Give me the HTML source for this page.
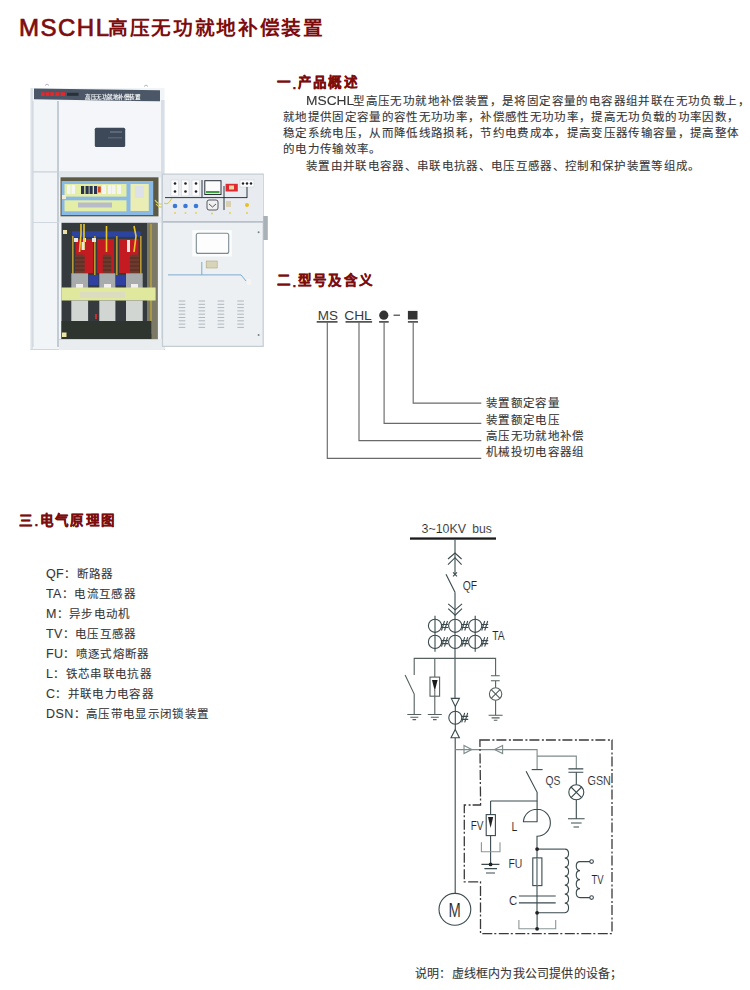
<!DOCTYPE html>
<html lang="zh-CN"><head><meta charset="utf-8">
<style>
html,body{margin:0;padding:0;background:#fff;}
body{width:750px;height:990px;position:relative;overflow:hidden;text-spacing-trim:space-all;font-family:"Liberation Sans",sans-serif;color:#333;}
.a{position:absolute;white-space:nowrap;}
.title{left:19px;top:12px;font-size:19.7px;line-height:30px;color:#7d0c0c;font-weight:bold;letter-spacing:1.65px;}
.title .lat{font-size:24px;letter-spacing:1.5px;font-weight:normal;-webkit-text-stroke:0.7px #7d0c0c;position:relative;top:1px;margin-right:-2.5px;}
.h{font-size:13.5px;line-height:20px;color:#7d0c0c;font-weight:bold;letter-spacing:2.4px;-webkit-text-stroke:0.3px #7d0c0c;}
.b{font-size:11.5px;line-height:20px;color:#363636;letter-spacing:1.33px;-webkit-text-stroke:0.1px #363636;}
.j{width:458px;text-align:justify;text-align-last:justify;white-space:normal;}
.lat{letter-spacing:1px;}
.ll{font-size:12.5px;letter-spacing:0.4px;}
svg{position:absolute;left:0;top:0;}
</style></head><body>
<svg width="750" height="990" viewBox="0 0 750 990" style="filter:blur(0.45px)">
<!-- left cabinet body -->
<rect x="30.5" y="88" width="134" height="262" fill="#f2f5f8"/>
<rect x="30.5" y="88" width="2.5" height="262" fill="#dde3e8"/>
<rect x="161" y="100" width="3.5" height="250" fill="#d8dee5"/>
<path d="M30.5,349.5H165" stroke="#d0d6dc" stroke-width="1.2"/>
<!-- header bar -->
<polygon points="34,88.4 160,90.2 160,101.5 34,99.3" fill="#4b5766"/>
<g fill="#e8262a"><rect x="41" y="92.2" width="3.6" height="3.8"/><rect x="45.6" y="92.2" width="3.6" height="3.8"/><rect x="50.2" y="92.2" width="4" height="3.8"/><rect x="55.4" y="92.2" width="4" height="3.8"/><rect x="60.6" y="92.2" width="4.4" height="3.8"/></g>
<rect x="67" y="92.8" width="11.5" height="3" fill="#283038"/>
<text x="85" y="98.8" font-size="5.6" font-weight="bold" fill="#f2f4f6" letter-spacing="-0.5">高压无功就地补偿装置</text>
<!-- left narrow panel divider -->
<rect x="57" y="101" width="2" height="246" fill="#c3ccd4"/>
<path d="M33,171.8H161" stroke="#c8d0d8" stroke-width="1.3"/>
<path d="M33,222.5H59" stroke="#d0d7de" stroke-width="1"/>
<!-- upper door -->
<rect x="59" y="101.5" width="102" height="70" fill="#f4f6f9"/>
<rect x="94.8" y="127.8" width="30.4" height="19.2" rx="1.5" fill="#3d4959"/>
<rect x="110" y="131" width="12" height="2" fill="#5a6878"/>
<rect x="108" y="137" width="14" height="1.5" fill="#55636f"/>
<!-- shelf -->
<rect x="59" y="172.5" width="102" height="5" fill="#e3e8ec"/>
<!-- relay panel -->
<rect x="60.5" y="177.3" width="98" height="39.3" fill="#5c5a44"/>
<rect x="61.6" y="181" width="91.6" height="34" fill="#8bb9e6"/>
<rect x="64.5" y="184" width="62" height="12.6" fill="#e4eea6"/>
<rect x="64.5" y="200.3" width="62" height="11" fill="#e4eea6"/>
<rect x="130.5" y="184" width="18.3" height="27" fill="#eaeeb4"/>
<g fill="#f4f4f4"><rect x="67" y="185" width="3.5" height="9"/><rect x="71.5" y="185" width="3.5" height="9"/><rect x="102" y="185" width="4" height="9"/><rect x="108" y="185" width="3.5" height="9"/><rect x="112" y="185" width="3.5" height="9"/><rect x="117" y="185" width="4" height="9"/><rect x="135" y="186" width="9" height="12" fill="#dde2ea"/></g>
<g fill="#2a3450"><rect x="81" y="186" width="3.2" height="8"/><rect x="85.5" y="186" width="3.2" height="8"/><rect x="89.5" y="186" width="3.2" height="8"/><rect x="94" y="186" width="3.2" height="8"/></g>
<rect x="98" y="186.5" width="2.8" height="6" fill="#d84020"/>
<rect x="78" y="202.5" width="34" height="5" fill="#b8bcc8"/>
<rect x="62" y="195" width="4" height="4" fill="#f0ecd8"/>
<path d="M155,200q4,6 9,3M156,204q4,5 8,2" stroke="#d8d060" stroke-width="1.2" fill="none"/>
<!-- lower shelf -->
<rect x="59" y="216.6" width="102" height="6.2" fill="#e6eaee"/>
<!-- interior -->
<rect x="61.5" y="222.8" width="96" height="116.2" fill="#343a3e"/>
<rect x="147" y="223" width="10.5" height="116" fill="#7c7a66"/>
<rect x="150" y="224" width="2" height="110" fill="#a89848"/>
<rect x="63" y="230" width="4" height="4" fill="#e8e0a8"/>
<rect x="63" y="333" width="4" height="4" fill="#e8e0a8"/>
<!-- blue bus -->
<rect x="72" y="231.3" width="68.6" height="5.6" fill="#2c44a0"/>
<!-- red cores -->
<rect x="75.5" y="239" width="17.5" height="34" fill="#c41a22"/>
<rect x="97.2" y="239" width="16.8" height="34" fill="#c41a22"/>
<rect x="119" y="239" width="19.5" height="34" fill="#c41a22"/>
<!-- yellow posts -->
<g fill="#b89a34"><rect x="72" y="236" width="1.6" height="40"/><rect x="94" y="236" width="1.6" height="40"/><rect x="116" y="236" width="1.6" height="40"/><rect x="140" y="236" width="1.6" height="40"/></g>
<!-- white terminals -->
<g fill="#e8e8e8"><rect x="74" y="238" width="4" height="4"/><rect x="92" y="238" width="4" height="4"/><rect x="83" y="238" width="3" height="4"/></g>
<!-- yellow wires -->
<g stroke="#e8c828" stroke-width="1.6" fill="none"><path d="M81,224V234L79.5,252"/><path d="M84,224V236L84,250"/><path d="M106.5,226V252"/><path d="M134,226L136,236L134,252"/></g>
<g fill="#e8e8e0"><rect x="81.5" y="242" width="3" height="8"/><rect x="127" y="240" width="3" height="12"/></g>
<!-- insulators -->
<g fill="#6e3a2e"><rect x="75" y="254.4" width="9.6" height="19.6" rx="1.5"/><rect x="102.8" y="254.4" width="8.4" height="19.6" rx="1.5"/><rect x="130" y="254.4" width="9.2" height="19.6" rx="1.5"/></g>
<g stroke="#4c2820" stroke-width="0.8"><path d="M75,258H84.6M75,262H84.6M75,266H84.6M75,270H84.6M102.8,258H111.2M102.8,262H111.2M102.8,266H111.2M102.8,270H111.2M130,258H139.2M130,262H139.2M130,266H139.2M130,270H139.2"/></g>
<!-- capacitors upper -->
<g fill="#a7abab"><rect x="71.3" y="273.3" width="16.8" height="15"/><rect x="99.3" y="273.3" width="16.1" height="15"/><rect x="126" y="273.3" width="16.7" height="15"/></g>
<g fill="#3040a0"><rect x="88.5" y="275" width="10" height="10"/><rect x="115.8" y="275" width="10" height="10"/></g>
<g fill="#f2eeee"><rect x="76" y="284" width="7" height="4"/><rect x="104" y="284" width="7" height="4"/><rect x="131" y="284" width="7" height="4"/></g>
<!-- yellow beam -->
<rect x="61.4" y="287.5" width="94.2" height="13" fill="#dfe89c"/>
<rect x="80" y="292" width="45" height="6" fill="#d8d4d8" opacity="0.6"/>
<!-- capacitors lower -->
<g fill="#d2d6d2"><rect x="71.3" y="300.5" width="16.8" height="20.5"/><rect x="99.3" y="300.5" width="16.1" height="20.5"/><rect x="126" y="300.5" width="16.7" height="20.5"/></g>
<rect x="61.5" y="321" width="90" height="18.5" fill="#2e352e"/><rect x="62" y="332.5" width="4.5" height="4.5" fill="#ece6a8"/>
<rect x="95" y="314" width="2" height="5" fill="#c03030"/>
<!-- bottom frame -->
<rect x="59" y="339" width="105" height="11" fill="#eaedf0"/><path d="M59,339.5H158" stroke="#cdd4da" stroke-width="1"/><path d="M45,85.5q2,-3 4,0M144,86.5q2,-3 4,0" stroke="#9aa4ac" stroke-width="0.8" fill="none"/>
<!-- left panel lines -->
<path d="M33,101V347" stroke="#c9d1d8" stroke-width="1"/>
<!-- door (open) -->
<rect x="162.5" y="174.2" width="100.7" height="172.2" fill="#edf0f3"/>
<path d="M162.5,174.2H263.2V346.4H162.5Z" fill="none" stroke="#c4ccd4" stroke-width="1.2"/>
<rect x="163.5" y="175" width="99.5" height="46.5" fill="#e8ecf0"/>
<path d="M163,221.8H263" stroke="#b8c0c8" stroke-width="1.8"/>
<rect x="263.3" y="216" width="4.5" height="24" fill="#a9b1b8"/>
<!-- instruments -->
<g fill="#fbfbfb" stroke="#c8cdd2" stroke-width="0.5"><rect x="171" y="180" width="7.5" height="16"/><rect x="181.5" y="180" width="7.5" height="16"/><rect x="192" y="180" width="7.5" height="16"/><rect x="240" y="180" width="14" height="7"/></g>
<g fill="#1e2228"><circle cx="175" cy="183.5" r="1.3"/><circle cx="175" cy="191.5" r="1.3"/><circle cx="185.5" cy="183.5" r="1.3"/><circle cx="185.5" cy="191.5" r="1.3"/><circle cx="196" cy="183.5" r="1.3"/><circle cx="196" cy="191.5" r="1.3"/><circle cx="243" cy="183.5" r="1.2"/><circle cx="247" cy="183.5" r="1.2"/><circle cx="251" cy="183.5" r="1.2"/></g>
<rect x="204.8" y="180.7" width="16.2" height="13.8" fill="#fcfcfc" stroke="#2a3038" stroke-width="1"/>
<rect x="206" y="191" width="13.5" height="2.2" fill="#40a040"/>
<rect x="225.6" y="183.8" width="12.2" height="7.7" fill="#e02830"/>
<rect x="229" y="185.5" width="5" height="4" fill="#e8d8a0"/>
<path d="M165,197.6H247M202,180V197M224,186V198M247,187V198M224,198V210" stroke="#1a2430" stroke-width="0.9" fill="none"/>
<g fill="#3a78d8"><circle cx="175" cy="206" r="2.3"/><circle cx="185.5" cy="206" r="2.3"/><circle cx="196" cy="206" r="2.3"/></g>
<rect x="207" y="200" width="11" height="10" rx="2" fill="#f0f0f0" stroke="#30343a" stroke-width="0.8"/>
<path d="M209,204L212.5,207L216,204" stroke="#30343a" stroke-width="0.8" fill="none"/>
<rect x="226" y="201" width="5" height="6" fill="#d8d0b0"/>
<circle cx="247" cy="205" r="2" fill="#e8c020"/>
<g fill="#e8d040"><circle cx="175" cy="213" r="0.9"/><circle cx="185.5" cy="213" r="0.9"/><circle cx="196" cy="213" r="0.9"/><circle cx="212" cy="213.5" r="1"/><circle cx="230" cy="213" r="1"/><circle cx="247" cy="213" r="1"/></g>
<path d="M164,203q4,3 8,-5" stroke="#d0c850" stroke-width="1" fill="none"/>
<!-- window -->
<rect x="192.3" y="230.1" width="39.5" height="26.4" fill="#fbfcfc"/>
<rect x="196.3" y="233.2" width="32.4" height="20.2" rx="2" fill="#fdfdfd" stroke="#7c8c92" stroke-width="1.1"/>
<circle cx="258.6" cy="232.2" r="1" fill="#7a8088"/>
<circle cx="258.6" cy="335" r="1" fill="#7a8088"/>
<!-- device and wire -->
<rect x="206.2" y="261" width="11" height="7" fill="#d8d4b8" stroke="#b0a880" stroke-width="0.6"/>
<path d="M168,274.9H241L246,281M201.8,262V274.9" stroke="#7aaad0" stroke-width="1" fill="none"/>
<rect x="247" y="279" width="4" height="6" fill="#f4f4f4"/>
<!-- louvers -->
<g stroke="#aeb8be" stroke-width="1">
<path d="M178.7,301H185.3M178.7,304.3H185.3M178.7,307.6H185.3M178.7,310.9H185.3M178.7,314.2H185.3M178.7,317.5H185.3M178.7,320.8H185.3M178.7,324.1H185.3M178.7,327.4H185.3"/>
<path d="M198.5,301H205.1M198.5,304.3H205.1M198.5,307.6H205.1M198.5,310.9H205.1M198.5,314.2H205.1M198.5,317.5H205.1M198.5,320.8H205.1M198.5,324.1H205.1M198.5,327.4H205.1"/>
<path d="M217.6,301H224.2M217.6,304.3H224.2M217.6,307.6H224.2M217.6,310.9H224.2M217.6,314.2H224.2M217.6,317.5H224.2M217.6,320.8H224.2M217.6,324.1H224.2M217.6,327.4H224.2"/>
<path d="M237.3,301H243.9M237.3,304.3H243.9M237.3,307.6H243.9M237.3,310.9H243.9M237.3,314.2H243.9M237.3,317.5H243.9M237.3,320.8H243.9M237.3,324.1H243.9M237.3,327.4H243.9"/>
</g>
</svg>
<div class="a title"><span class="lat">MSCHL</span>高压无功就地补偿装置</div>

<div class="a h" style="left:277px;top:73px;">一<span style="letter-spacing:1.4px;position:relative;top:1.5px">.</span>产品概述</div>
<div class="a b" style="left:306px;top:90.5px;letter-spacing:1.4px"><span style="display:inline-block;font-size:12.4px;letter-spacing:0;transform:scaleX(1.11);transform-origin:0 0;margin-right:3.8px">MSCHL</span>型高压无功就地补偿装置，是将固定容量的电容器组并联在无功负载上，</div>
<div class="a b" style="left:283px;top:106.6px;">就地提供固定容量的容性无功功率，补偿感性无功功率，提高无功负载的功率因数，</div>
<div class="a b" style="left:283px;top:122.8px;">稳定系统电压，从而降低线路损耗，节约电费成本，提高变压器传输容量，提高整体</div>
<div class="a b" style="left:283px;top:139.3px;">的电力传输效率。</div>
<div class="a b" style="left:306px;top:155.6px;">装置由并联电容器、串联电抗器、电压互感器、控制和保护装置等组成。</div>

<div class="a h" style="left:277px;top:271px;">二<span style="letter-spacing:1.4px;position:relative;top:1.5px">.</span>型号及含义</div>

<div class="a h" style="left:19px;top:510.5px;">三<span style="letter-spacing:1.4px;position:relative;top:1.5px">.</span>电气原理图</div>

<div class="a b" style="left:46px;top:564px;"><span class="ll">QF</span>：断路器</div>
<div class="a b" style="left:46px;top:584px;"><span class="ll">TA</span>：电流互感器</div>
<div class="a b" style="left:46px;top:604px;"><span class="ll">M</span>：异步电动机</div>
<div class="a b" style="left:46px;top:624px;"><span class="ll">TV</span>：电压互感器</div>
<div class="a b" style="left:46px;top:644px;"><span class="ll">FU</span>：喷逐式熔断器</div>
<div class="a b" style="left:46px;top:664px;"><span class="ll">L</span>：铁芯串联电抗器</div>
<div class="a b" style="left:46px;top:684px;"><span class="ll">C</span>：并联电力电容器</div>
<div class="a b" style="left:46px;top:704px;"><span class="ll">DSN</span>：高压带电显示闭锁装置</div>

<div class="a b" style="left:486px;top:393px;">装置额定容量</div>
<div class="a b" style="left:486px;top:409.5px;">装置额定电压</div>
<div class="a b" style="left:486px;top:425.5px;">高压无功就地补偿</div>
<div class="a b" style="left:486px;top:441.5px;">机械投切电容器组</div>

<div class="a b" style="left:415px;top:963.5px;font-size:12px;letter-spacing:0.2px;">说明：虚线框内为我公司提供的设备；</div>

<svg width="750" height="990" viewBox="0 0 750 990" style="font-family:'Liberation Sans',sans-serif">
<g fill="none" stroke="#6a6a6a" stroke-width="1.15">
<path d="M327.3,322.5V458.3H481.3M359,322.5V440.6H481.3M384.1,322.5V423.3H481.3M413.2,322.5V403.1H481.3"/>
</g>
<g stroke="#555" stroke-width="1.7" fill="none">
<path d="M316.7,321.8H337.5M345.5,321.8H372.1M379.1,321.8H388.7M407.9,321.8H418"/>
</g>
<circle cx="383.8" cy="315.2" r="4.6" fill="#333"/>
<rect x="407.9" y="310.9" width="9.6" height="8.6" fill="#333"/>
<path d="M393.5,315.2H400" stroke="#444" stroke-width="1.2"/>
<text x="317.8" y="319.5" font-size="12.5" fill="#3a3a3a" textLength="20.2" lengthAdjust="spacingAndGlyphs">MS</text>
<text x="344.2" y="319.5" font-size="12.5" fill="#3a3a3a" textLength="27.6" lengthAdjust="spacingAndGlyphs">CHL</text>
</svg>
<svg width="750" height="990" viewBox="0 0 750 990" style="font-family:'Liberation Sans',sans-serif">
<g fill="#1e2626" font-size="13.5" stroke="#fff" stroke-width="0.12">
<text x="421.5" y="533" textLength="44.5" lengthAdjust="spacingAndGlyphs">3~10KV</text><text x="472.2" y="533" textLength="19.6" lengthAdjust="spacingAndGlyphs">bus</text>
<text x="462.8" y="589.7" textLength="14.4" lengthAdjust="spacingAndGlyphs">QF</text>
<text x="492.2" y="640.4" textLength="12.4" lengthAdjust="spacingAndGlyphs">TA</text>
<text x="545.5" y="785" textLength="14.9" lengthAdjust="spacingAndGlyphs">QS</text>
<text x="587.5" y="785" textLength="23.4" lengthAdjust="spacingAndGlyphs">GSN</text>
<text x="470.7" y="829.6" textLength="12.8" lengthAdjust="spacingAndGlyphs">FV</text>
<text x="511.5" y="831.4" textLength="5.8" lengthAdjust="spacingAndGlyphs">L</text>
<text x="508.5" y="868" textLength="13.9" lengthAdjust="spacingAndGlyphs">FU</text>
<text x="509.1" y="904.8" textLength="8.2" lengthAdjust="spacingAndGlyphs">C</text>
<text x="591.5" y="884" textLength="12.2" lengthAdjust="spacingAndGlyphs">TV</text>
<text x="448.5" y="917.4" font-size="20" textLength="12.3" lengthAdjust="spacingAndGlyphs">M</text>
</g>
<rect x="410" y="537.4" width="86" height="2.3" fill="#1a1a1a"/>
<g fill="none" stroke="#3a4a4e" stroke-width="1.1">
<!-- main vertical top -->
<path d="M455,539.7V574.3M455,592.3V698.4"/>
<path d="M448,559L455,553L461.6,559M448,564.6L455,557.7L461.6,564.6"/>
<path d="M453,572.3L457,576.3M457,572.3L453,576.3"/>
<path d="M446,574.3L455,592.3"/>
<path d="M448.2,603.8L455.2,609.8L462,603.8M448.2,608.6L455.2,615.2L462,608.6"/>
<!-- CTs -->
<circle cx="435" cy="625.8" r="6.6"/><circle cx="455.2" cy="625.8" r="6.6"/><circle cx="475.2" cy="625.8" r="6.6"/>
<circle cx="435" cy="641.9" r="6.6"/><circle cx="455.2" cy="641.9" r="6.6"/><circle cx="475.2" cy="641.9" r="6.6"/>
<path d="M435,615.8V651.8M475.2,615.8V651.8"/>
<path d="M441.5,630.5L444.5,621M444.5,630.5L447.5,621M441,624.5H448M441,627.5H448"/>
<path d="M461.7,630.5L464.7,621M464.7,630.5L467.7,621M461.2,624.5H468.2M461.2,627.5H468.2"/>
<path d="M481.7,630.5L484.7,621M484.7,630.5L487.7,621M481.2,624.5H488.2M481.2,627.5H488.2"/>
<path d="M441.5,646.6L444.5,637.1M444.5,646.6L447.5,637.1M441,640.6H448M441,643.6H448"/>
<path d="M461.7,646.6L464.7,637.1M464.7,646.6L467.7,637.1M461.2,640.6H468.2M461.2,643.6H468.2"/>
<path d="M481.7,646.6L484.7,637.1M484.7,646.6L487.7,637.1M481.2,640.6H488.2M481.2,643.6H488.2"/>
</g>
<g fill="none" stroke="#56605f" stroke-width="1.1">
<path d="M414.2,675V658.4H495.6V675.7"/>
<path d="M405.1,675L414.2,694V714.5"/>
<path d="M407.3,714.5H421.3M410.3,717.2H418.3M412.5,719.6H416.1"/>
<path d="M434.8,658.4V677.1M434.8,696.2V714.5"/>
<rect x="430" y="677.1" width="9.6" height="19.1"/>
<path d="M427.8,714.5H441.8M430.8,717.2H438.8M433,719.6H436.6"/>
<path d="M490.9,675.7H499.7M490.9,680.8H499.7M495.6,680.8V687.8M495.6,700.2V715.2"/>
<circle cx="495.6" cy="694" r="6.2"/>
<path d="M491.2,689.6L500,698.4M500,689.6L491.2,698.4"/>
<path d="M488.6,715.2H502.6M491.6,717.9H499.6M493.8,720.3H497.4"/>
</g>
<path d="M432,680H437.6L434.8,691Z" fill="#1a1a1a"/><path d="M434.8,690V696" stroke="#333" stroke-width="0.8"/>
<g fill="none" stroke="#3a4a4e" stroke-width="1.1">
<path d="M451.3,698.4H459.4L455.3,706.5Z"/>
<path d="M455.3,706.5V729.4"/>
<circle cx="455.3" cy="717.7" r="6.5"/>
<path d="M461.7,722.4L464.7,712.9M464.7,722.4L467.7,712.9M461.2,716.4H468.2M461.2,719.4H468.2"/>
<path d="M451,737.8H459.4L455.2,729.4Z"/>
<path d="M455.2,737.8V893.4"/>
<circle cx="454.9" cy="909.3" r="15.9"/>
</g>
<g fill="none" stroke="#7d8b8b" stroke-width="1.1">
<path d="M455.2,749.6H537.1V769.6"/>
<path d="M464,745.5L471.8,749.6L464,753.6Z"/>
<path d="M502.6,745.5L494.5,749.6L502.6,753.6Z"/>
<path d="M537.1,756.1H576.3V768.9"/>
</g>
<g fill="none" stroke="#3a4a4e" stroke-width="1.1">
<path d="M531.7,769.6H542.6"/>
<path d="M568.4,768.9H583.3M568.4,772.2H583.3"/>
<path d="M576.3,772.2V784.8M576.3,799.8V818.7"/>
<circle cx="576.3" cy="792.3" r="7.5"/>
<path d="M571,787L581.6,797.6M581.6,787L571,797.6"/>
<path d="M568,818.7H584.6M571,823H581.6M573.5,827H579.1"/>
<path d="M526.1,771.3L537.1,792.3V821.8H523.4A13.5,13.5 0 1 1 537,836.2V912.8"/>
<path d="M490.6,801H537.1"/>
<path d="M490.6,801V814.6M490.6,835.6V864.4"/>
<rect x="486.2" y="814.6" width="9.2" height="21"/>
<path d="M481.4,864.4H499.4M484.4,868.6H497M486,873H495"/>
<path d="M537.1,849.1H564.8"/>
<path d="M564.8,849.1c5,0 5,9 0,9c5,0 5,9 0,9c5,0 5,9 0,9c5,0 5,9 0,9c5,0 5,9 0,9c5,0 5,9 0,9c5,0 5,9 0,9.7H537.1"/>
<path d="M590,861.6H580c-5,0 -5,9 0,9c-5,0 -5,9 0,9c-5,0 -5,9 0,9c-5,0 -5,9 0,9H590"/>
<circle cx="591.6" cy="861.6" r="1.8"/><circle cx="591.6" cy="897.6" r="1.8"/>
<rect x="532.8" y="857.9" width="9.1" height="27.7"/><path d="M537.3,857.9V885.6" stroke="#9aa"/>
<path d="M518.9,896H555.7M518.9,902.9H555.7"/>
<path d="M537.1,912.8V928.8"/>
</g>
<g fill="none" stroke="#8a9696" stroke-width="1.1">
<path d="M481.4,842.2V851.8H500V842.2"/>
<path d="M518.9,920V928.8H555.7V920"/>
</g>
<g fill="#222"><circle cx="490.6" cy="864.4" r="1.9"/><circle cx="537.1" cy="849.1" r="1.9"/><circle cx="537.1" cy="912.8" r="1.9"/><circle cx="537.1" cy="928.8" r="1.9"/></g>
<path d="M488,817H493.2L490.6,828Z" fill="#222"/>
<path d="M479.9,740H612V933.7H480.5V881.8H464.3V805H480.6Z" fill="none" stroke="#3a3a3a" stroke-width="1.3" stroke-dasharray="10 2.5 2 2"/>
</svg>
</body></html>
